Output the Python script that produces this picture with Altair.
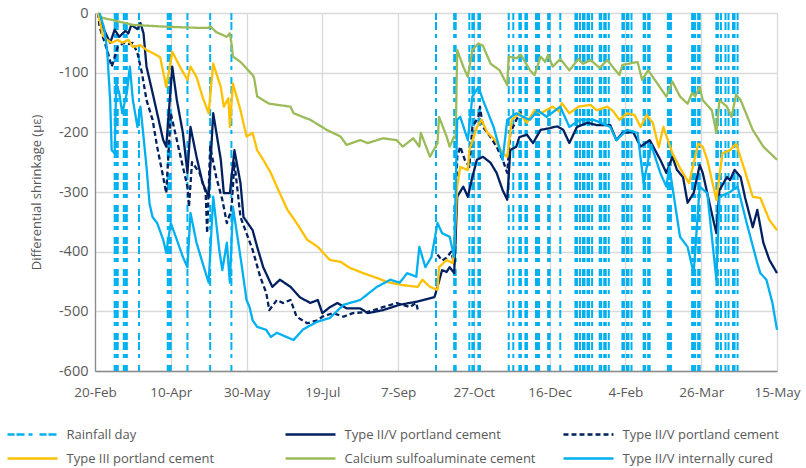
import altair as alt
import pandas as pd

START = pd.Timestamp("2012-02-20")
END = pd.Timestamp("2013-05-15")

# legend / series definitions (note second Type II/V has a trailing space to keep it distinct)
series_names = ["Rainfall day", "Type II/V portland cement", "Type II/V portland cement ",
                "Type III portland cement", "Calcium sulfoaluminate cement", "Type II/V internally cured"]
series_colors = ["#00B0F0", "#002060", "#002060", "#FFC000", "#9BBB59", "#00B0F0"]
series_dash = [[7, 2, 8, 4, 4, 7], [1, 0], [5, 3], [1, 0], [1, 0], [1, 0]]

# rainfall days (days after 20-Feb-2012)
rain_days = [13, 14, 15, 19, 20, 21, 29, 48, 49, 50, 61, 76, 90, 225, 237, 238, 247, 249, 250, 253, 254,
             273, 276, 280, 281, 284, 285, 291, 292, 293, 299, 300, 307, 317, 318, 320, 322, 323, 325, 326,
             328, 333, 334, 336, 337, 339, 348, 349, 351, 352, 354, 362, 363, 365, 366, 378, 379, 380,
             394, 395, 396, 398, 399, 410, 411, 413, 416, 418, 421, 422, 424]

# (day, differential shrinkage µε)
type25_solid = [(2, 0), (5, -23), (10, -50), (13, -28), (16, -40), (20, -30), (22, -34), (24, -20), (28, -27),
                (30, -17), (32, -34), (34, -90), (38, -134), (45, -213), (47, -224), (51, -90), (54, -146),
                (58, -201), (61, -268), (63, -191), (67, -241), (71, -285), (75, -308), (78, -168), (83, -246),
                (85, -302), (89, -302), (92, -230), (96, -285), (98, -342), (104, -364), (107, -392), (111, -426),
                (117, -459), (122, -447), (129, -459), (135, -476), (142, -486), (147, -481), (150, -503),
                (155, -493), (160, -486), (166, -495), (175, -495), (180, -503), (190, -498), (201, -489),
                (212, -484), (224, -476), (226, -459), (229, -431), (232, -434), (234, -426), (237, -436),
                (239, -308), (243, -291), (246, -308), (249, -275), (252, -246), (256, -241), (261, -251),
                (265, -268), (269, -297), (272, -313), (274, -230), (278, -224), (280, -208), (285, -204),
                (289, -218), (294, -196), (300, -193), (305, -190), (309, -196), (313, -218), (318, -191),
                (325, -184), (331, -188), (340, -188), (344, -213), (348, -201), (355, -199), (360, -224),
                (366, -213), (373, -246), (377, -268), (381, -241), (384, -263), (388, -275), (391, -318),
                (395, -302), (399, -255), (401, -268), (406, -325), (410, -369), (412, -297), (417, -275),
                (419, -280), (422, -263), (426, -275), (429, -310), (434, -359), (437, -330), (441, -385),
                (445, -414), (450, -436)]

type25_dash_a = [(2, 0), (3, -23), (8, -62), (11, -90), (13, -74), (15, -57), (19, -50), (22, -52), (25, -50),
                 (28, -67), (31, -101), (34, -146), (38, -179), (41, -224), (45, -275), (47, -302), (50, -168),
                 (54, -213), (58, -258), (61, -291), (62, -325), (64, -250), (69, -268), (73, -300), (74, -369),
                 (76, -224), (80, -275), (84, -313), (87, -352), (90, -330), (92, -251), (96, -342), (104, -397),
                 (109, -442), (113, -469), (115, -498), (120, -481), (124, -486), (129, -481), (133, -509),
                 (140, -520), (147, -515), (150, -509), (157, -503), (164, -509), (170, -503), (180, -501),
                 (190, -493), (199, -486), (208, -493), (210, -489), (212, -486), (213, -498)]
type25_dash_b = [(226, -405), (229, -415), (232, -410), (235, -400), (237, -420), (239, -241), (241, -224),
                 (244, -246), (247, -258), (249, -191), (253, -174), (254, -157), (256, -191), (261, -208),
                 (265, -224), (269, -246), (272, -268), (274, -201), (278, -179), (281, -165)]

type3 = [(2, 0), (4, -23), (5, -37), (8, -45), (11, -50), (15, -45), (18, -50), (22, -45), (25, -57), (30, -54),
         (34, -62), (38, -67), (43, -74), (47, -124), (51, -65), (56, -90), (61, -112), (63, -90), (67, -107),
         (71, -141), (75, -168), (78, -85), (83, -124), (85, -157), (88, -143), (89, -191), (91, -118),
         (96, -163), (100, -207), (104, -201), (107, -230), (111, -246), (116, -268), (121, -297), (127, -330),
         (133, -352), (140, -380), (147, -392), (155, -414), (162, -417), (168, -427), (177, -436), (186, -444),
         (193, -451), (203, -456), (213, -459), (216, -447), (221, -459), (226, -464), (227, -426), (232, -414),
         (236, -419), (237, -394), (239, -291), (241, -258), (246, -263), (247, -230), (252, -191), (255, -179),
         (259, -201), (264, -213), (269, -235), (272, -241), (275, -179), (280, -168), (285, -184), (290, -163),
         (294, -168), (302, -157), (306, -165), (308, -151), (313, -168), (319, -157), (327, -154), (331, -163),
         (338, -157), (342, -165), (346, -179), (351, -168), (356, -171), (360, -191), (364, -171), (368, -184),
         (372, -225), (375, -191), (381, -235), (386, -260), (392, -285), (398, -219), (401, -224), (404, -246),
         (410, -313), (414, -235), (419, -230), (423, -219), (428, -258), (434, -308), (439, -310), (445, -347),
         (450, -364)]

csa = [(3, -5), (5, -8), (25, -20), (47, -23), (69, -25), (75, -25), (76, -22), (80, -32), (87, -40), (89, -34),
       (90, -50), (91, -73), (96, -82), (104, -104), (105, -109), (107, -140), (111, -146), (115, -152),
       (129, -157), (131, -168), (142, -179), (153, -196), (162, -207), (166, -221), (175, -213), (180, -218),
       (190, -210), (199, -213), (203, -224), (210, -210), (214, -224), (215, -201), (221, -241), (226, -218),
       (227, -174), (232, -207), (234, -224), (237, -207), (238, -210), (239, -62), (243, -90), (246, -107),
       (249, -62), (253, -51), (256, -55), (261, -85), (267, -96), (272, -121), (273, -73), (278, -76),
       (281, -70), (287, -96), (290, -104), (294, -73), (297, -82), (299, -70), (302, -90), (307, -77),
       (313, -96), (319, -77), (322, -85), (327, -79), (333, -92), (338, -79), (346, -104), (348, -87),
       (358, -82), (361, -112), (365, -96), (368, -107), (377, -140), (381, -115), (386, -140), (391, -152),
       (394, -134), (396, -140), (399, -124), (401, -146), (407, -163), (410, -201), (412, -146), (417, -157),
       (420, -174), (423, -137), (426, -146), (434, -196), (441, -224), (450, -246)]

type25_ic = [(3, 0), (6, -25), (8, -62), (10, -146), (11, -230), (13, -235), (14, -118), (16, -134), (18, -168),
             (21, -134), (23, -90), (25, -146), (28, -191), (30, -157), (34, -258), (36, -320), (38, -342),
             (41, -352), (45, -380), (47, -402), (50, -352), (54, -380), (58, -409), (61, -426), (63, -335),
             (67, -385), (71, -419), (75, -452), (78, -308), (82, -397), (84, -431), (87, -385), (89, -452),
             (91, -325), (96, -409), (100, -481), (102, -493), (104, -515), (107, -526), (113, -531), (116, -543),
             (120, -536), (131, -548), (137, -531), (146, -518), (155, -511), (164, -489), (175, -481),
             (186, -459), (195, -447), (201, -452), (206, -436), (212, -442), (214, -392), (218, -426),
             (222, -409), (226, -352), (229, -369), (234, -375), (237, -409), (239, -179), (241, -174),
             (246, -213), (249, -140), (253, -124), (256, -146), (263, -191), (269, -246), (272, -179),
             (278, -168), (280, -171), (287, -179), (292, -163), (298, -174), (307, -157), (313, -191),
             (320, -179), (329, -179), (340, -191), (344, -213), (351, -196), (358, -201), (362, -285),
             (367, -221), (373, -268), (377, -291), (379, -258), (386, -375), (391, -392), (395, -436),
             (399, -291), (404, -302), (410, -447), (412, -308), (419, -300), (424, -291), (430, -352),
             (437, -419), (439, -436), (443, -447), (447, -486), (450, -531)]

x_tick_dates = ["2012-02-20", "2012-04-10", "2012-05-30", "2012-07-19", "2012-09-07",
                "2012-10-27", "2012-12-16", "2013-02-04", "2013-03-26", "2013-05-15"]
y_ticks = [0, -100, -200, -300, -400, -500, -600]


def ms(ts):
    return int(pd.Timestamp(ts).value // 10**6)


def day_ms(d):
    return ms(START + pd.Timedelta(days=d))


rows = []
for name, seg, pts in [(series_names[1], "a", type25_solid),
                       (series_names[2], "a", type25_dash_a),
                       (series_names[2], "b", type25_dash_b),
                       (series_names[3], "a", type3),
                       (series_names[4], "a", csa),
                       (series_names[5], "a", type25_ic)]:
    for d, v in pts:
        rows.append({"date": day_ms(d), "value": v, "series": name, "seg": seg})
df = pd.DataFrame(rows)
rain_df = pd.DataFrame({"date": [day_ms(d) for d in rain_days], "series": series_names[0]})

FONT = "Open Sans"
GRAY = "#595959"

x_enc = alt.X("date:T",
              scale=alt.Scale(type="utc", domain=[ms(START), ms(END)]),
              axis=alt.Axis(title=None, values=[ms(t) for t in x_tick_dates], format="%-d-%b",
                            labelFont=FONT, labelFontSize=13.5, labelColor=GRAY, labelPadding=14,
                            ticks=False, grid=True, gridColor="#D9D9D9", gridWidth=1.3,
                            domainColor="#8C8C8C", domainWidth=1.3, labelFlush=False))
y_enc = alt.Y("value:Q",
              scale=alt.Scale(domain=[-600, 0], nice=False),
              axis=alt.Axis(title="Differential shrinkage  (µε)", values=y_ticks,
                            labelExpr="datum.value == 0 ? '0' : '-' + abs(datum.value)",
                            labelFont=FONT, labelFontSize=14.5, labelColor=GRAY, labelPadding=7,
                            titleFont=FONT, titleFontSize=13, titleColor=GRAY, titleFontWeight="normal",
                            titlePadding=15, ticks=False, grid=True, gridColor="#D9D9D9", gridWidth=1.3,
                            domainColor="#8C8C8C", domainWidth=1.3))

legend = alt.Legend(title=None, orient="none", legendX=-76.5, legendY=407.5, columns=3,
                    direction="horizontal",
                    symbolType="M-2,0L2,0", symbolSize=625, symbolStrokeWidth=2.5,
                    labelOffset=20, gridAlign="all", columnPadding=22, rowPadding=3, padding=0,
                    labelFont=FONT, labelFontSize=13, labelColor=GRAY, labelLimit=400)
color_scale = alt.Scale(domain=series_names, range=series_colors)
dash_scale = alt.Scale(domain=series_names, range=series_dash)
color_enc = alt.Color("series:N", scale=color_scale, legend=legend)
dash_enc = alt.StrokeDash("series:N", scale=dash_scale, legend=legend)

rain = alt.Chart(rain_df).mark_rule(strokeWidth=2).encode(x=x_enc, color=color_enc, strokeDash=dash_enc)

layers = [rain]
for name in series_names[1:]:
    layers.append(
        alt.Chart(df).transform_filter(alt.datum.series == name)
        .mark_line(strokeWidth=2.3, strokeJoin="round")
        .encode(x=x_enc, y=y_enc, color=color_enc, strokeDash=dash_enc, detail="seg:N")
    )

chart = alt.layer(*layers).properties(
    width=682, height=358,
    autosize=alt.AutoSizeParams(type="none"),
    padding={"left": 95, "top": 13, "right": 29, "bottom": 97},
).configure_view(stroke=None).configure(background="white")

chart.save("out.html", embed_options={"renderer": "svg", "actions": False})
